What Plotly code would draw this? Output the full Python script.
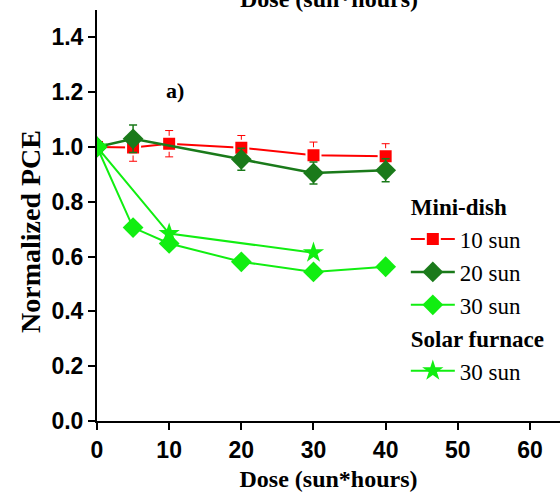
import plotly.graph_objects as go

# Data
dose_10 = [0, 5, 10, 20, 30, 40]
pce_10 = [1.0, 0.998, 1.012, 0.997, 0.970, 0.966]
err_10 = [0.0, 0.05, 0.048, 0.045, 0.048, 0.046]

dose_20 = [0, 5, 20, 30, 40]
pce_20 = [1.0, 1.03, 0.955, 0.905, 0.915]
err_20 = [0.0, 0.05, 0.04, 0.04, 0.042]

dose_30 = [0, 5, 10, 20, 30, 40]
pce_30 = [1.0, 0.706, 0.648, 0.581, 0.544, 0.563]

dose_sf = [0, 10, 30]
pce_sf = [1.0, 0.684, 0.614]

x_ticks = [0, 10, 20, 30, 40, 50, 60]
y_ticks = [0.0, 0.2, 0.4, 0.6, 0.8, 1.0, 1.2, 1.4]

RED = "#ff0000"
DKGREEN = "#1a7a1a"
LTGREEN = "#11ee11"
SERIF = "Liberation Serif, Times New Roman, serif"
SANS = "Liberation Sans, Arial, sans-serif"
LEG = 23

fig = go.Figure()

fig.add_trace(go.Scatter(
    x=dose_10, y=pce_10, mode="lines+markers", name="10 sun",
    legendgroup="mini", legendgrouptitle=dict(text="<b>Mini-dish</b>", font=dict(family=SERIF, size=LEG, color="black")),
    line=dict(color=RED, width=2),
    marker=dict(symbol="square", size=14, color=RED, line=dict(color="white", width=2)),
    error_y=dict(type="data", array=err_10, color=RED, thickness=1, width=4),
))
fig.add_trace(go.Scatter(
    x=dose_20, y=pce_20, mode="lines+markers", name="20 sun",
    legendgroup="mini",
    line=dict(color=DKGREEN, width=2.5),
    marker=dict(symbol="diamond", size=16, color=DKGREEN),
    error_y=dict(type="data", array=err_20, color=DKGREEN, thickness=1.5, width=4),
))
fig.add_trace(go.Scatter(
    x=dose_30, y=pce_30, mode="lines+markers", name="30 sun",
    legendgroup="mini",
    line=dict(color=LTGREEN, width=2),
    marker=dict(symbol="diamond", size=16, color=LTGREEN),
))
fig.add_trace(go.Scatter(
    x=dose_sf, y=pce_sf, mode="lines+markers", name="30 sun",
    legendgroup="sf", legendgrouptitle=dict(text="<b>Solar furnace</b>", font=dict(family=SERIF, size=LEG, color="black")),
    line=dict(color=LTGREEN, width=2),
    marker=dict(symbol="star", size=16, color=LTGREEN),
))

fig.add_annotation(x=10.8, y=1.207, xref="x", yref="y", text="<b>a)</b>", showarrow=False,
                   font=dict(family=SERIF, size=22, color="black"))
fig.add_annotation(x=0.5, y=1, xref="paper", yref="paper", yanchor="bottom", yshift=-4,
                   text="<b>Dose (sun*hours)</b>", showarrow=False,
                   font=dict(family=SERIF, size=24, color="black"))
# y-axis title (placed as annotation to match its lowered position)
fig.add_annotation(x=-0.145, y=0.462, xref="paper", yref="paper", textangle=-90,
                   xanchor="center", yanchor="middle",
                   text="<b>Normalized PCE</b>", showarrow=False,
                   font=dict(family=SERIF, size=28, color="black"))

fig.update_layout(
    width=560, height=497,
    margin=dict(l=97, r=0, t=10, b=76),
    paper_bgcolor="white", plot_bgcolor="white",
    showlegend=True,
    legend=dict(x=0.667, y=0.575, xanchor="left", yanchor="top",
                font=dict(family=SERIF, size=LEG, color="black"),
                bgcolor="rgba(0,0,0,0)", tracegroupgap=0, traceorder="grouped",
                itemwidth=44),
    xaxis=dict(range=[0, 64.16], tickvals=x_ticks, showgrid=False, zeroline=False,
               showline=True, linecolor="black", linewidth=2, automargin=False,
               ticks="outside", ticklen=7, tickwidth=2, tickcolor="black",
               tickfont=dict(family=SANS, size=23, color="black", weight="bold"),
               title=dict(text="<b>Dose (sun*hours)</b>", font=dict(family=SERIF, size=24, color="black"), standoff=9)),
    yaxis=dict(range=[0, 1.5], tickvals=y_ticks, tickformat=".1f", showgrid=False, zeroline=False,
               showline=True, linecolor="black", linewidth=2, automargin=False,
               ticks="outside", ticklen=7, tickwidth=2, tickcolor="black",
               tickfont=dict(family=SANS, size=23, color="black", weight="bold")),
)

fig.write_html("out.html", post_script="document.body.style.margin='0';",
               config={"displayModeBar": False})
